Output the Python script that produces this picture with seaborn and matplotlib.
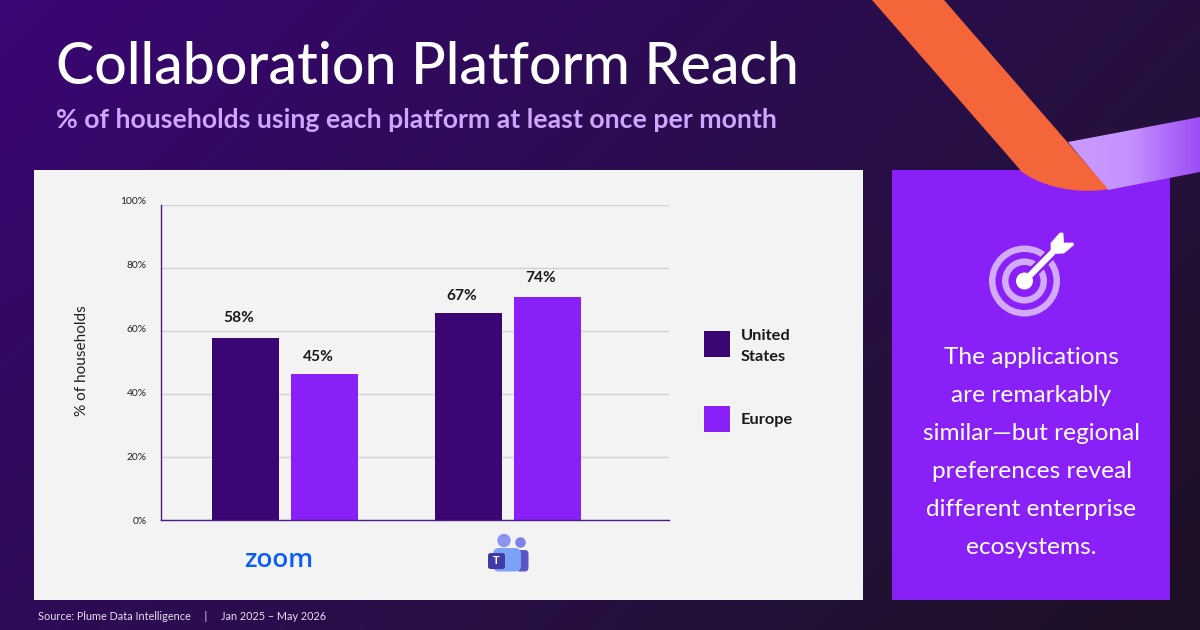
import numpy as np
import pandas as pd
import matplotlib
matplotlib.use("Agg")
import matplotlib.pyplot as plt
import seaborn as sns
from matplotlib.patches import Polygon, Rectangle, Circle, FancyBboxPatch, Wedge, PathPatch
from matplotlib.path import Path
from matplotlib.colors import LinearSegmentedColormap
from matplotlib.transforms import ScaledTranslation

platforms = ["Zoom", "Teams"]
regions = ["United States", "Europe"]
us_heights = [57.8, 65.7]
europe_heights = [46.3, 70.8]
us_labels = ["58%", "67%"]
europe_labels = ["45%", "74%"]
tick_values = [0, 20, 40, 60, 80, 100]
tick_labels = ["0%", "20%", "40%", "60%", "80%", "100%"]

TITLE = "Collaboration Platform Reach"
SUBTITLE = "% of households using each platform at least once per month"
SOURCE = "Source: Plume Data Intelligence     |     Jan 2025 – May 2026"
CALLOUT = ["The applications", "are remarkably", "similar—but regional",
           "preferences reveal", "different enterprise", "ecosystems."]

DARK = "#3A0674"
PURPLE = "#8A20F8"
FONT = "Lato"

sns.set_theme(style="white")
plt.rcParams["font.family"] = [FONT, "DejaVu Sans"]

fig = plt.figure(figsize=(12, 6.3), dpi=100)

# pixel overlay
bg = fig.add_axes([0, 0, 1, 1], zorder=0)
bg.set_xlim(0, 1200)
bg.set_ylim(630, 0)
bg.axis("off")

W, H = 240, 126
yy, xx = np.mgrid[0:1:H*1j, 0:1:W*1j]
t = np.clip((xx * 1200 + yy * 630 * 1.0) / 1830, 0, 1)
cmap = LinearSegmentedColormap.from_list("bg", ["#3A0674", "#2E0B58", "#26103F", "#1E1024"])
bg.imshow(t, cmap=cmap, extent=(0, 1200, 630, 0), aspect="auto", zorder=0, vmin=0, vmax=1)

bg.add_patch(Rectangle((34, 170), 829, 430, fc="#F3F3F3", ec="none", zorder=1))
bg.add_patch(Rectangle((892, 170), 278, 430, fc=PURPLE, ec="none", zorder=1))

# ribbons
rib = Polygon([(1068, 142), (1200, 117), (1200, 172), (1108, 190)], closed=True, fc="none", ec="none", zorder=2)
bg.add_patch(rib)
grad = np.linspace(0, 1, 200).reshape(1, -1)
gc = LinearSegmentedColormap.from_list("rib", ["#CB9CFF", "#C592FD", "#9D4DF5"])
im = bg.imshow(grad, cmap=gc, extent=(1060, 1200, 200, 110), aspect="auto", zorder=2)
im.set_clip_path(rib)
verts = [(872, 0), (944, 0), (1108, 189), (1094, 192), (1054, 194), (1022, 172), (1003, 150), (872, 0)]
codes = [Path.MOVETO, Path.LINETO, Path.LINETO, Path.CURVE4, Path.CURVE4, Path.CURVE4, Path.LINETO, Path.CLOSEPOLY]
bg.add_patch(PathPatch(Path(verts, codes), fc="#F4663A", ec="none", zorder=3))

# target icon
cx, cy = 1024.5, 281
LAV = "#D2ABFC"
for r, w in [(35.5, 6.5), (22.5, 6.5)]:
    bg.add_patch(Wedge((cx, cy), r, 0, 360, width=w, fc=LAV, ec="none", zorder=4))
bg.plot([cx, 1056], [cy, 249], color=PURPLE, lw=8, solid_capstyle="butt", zorder=5)
bg.plot([cx, 1053], [cy, 252], color="white", lw=4.5, solid_capstyle="butt", zorder=6)
bg.add_patch(Circle((cx, cy), 8.5, fc="white", ec="none", zorder=6))
bg.add_patch(Polygon([(1051, 243), (1060, 233), (1063, 233), (1063.5, 243), (1073, 243), (1073.5, 245),
                     (1064, 253), (1054, 253.5), (1051, 250)], closed=True, fc="white", ec="white", lw=0.5, zorder=6))

# titles
bg.text(56, 67, TITLE, color="white", fontsize=41.2, va="center", ha="left", fontweight="medium", zorder=5)
bg.text(56, 120.5, SUBTITLE, color="#CFA6FF", fontsize=19.2, va="center", ha="left", fontweight="bold", zorder=5)
bg.text(38, 617, SOURCE, color="#E6DDF0", fontsize=7.8, va="center", ha="left", zorder=5)

for i, line in enumerate(CALLOUT):
    bg.text(1031.5, 358 + i * 38, line, color="white", fontsize=17.6, ha="center", va="center", zorder=5)

# legend
bg.add_patch(Rectangle((704, 331), 26, 26, fc=DARK, ec="none", zorder=4))
bg.add_patch(Rectangle((704, 406), 26, 26, fc=PURPLE, ec="none", zorder=4))
bg.text(741, 346.5, "United\nStates", color="#1A1A1A", fontsize=11.8, fontweight="bold", va="center", ha="left",
        linespacing=1.55, zorder=5)
bg.text(741, 420, regions[1], color="#1A1A1A", fontsize=11.8, fontweight="bold", va="center", ha="left", zorder=5)

# logos
bg.text(279, 560.5, "zoom", color="#0B5CFF", fontsize=18.8, fontweight="semibold", ha="center", va="center",
        family=["Open Sans", "DejaVu Sans"], zorder=5)
bg.add_patch(Circle((504, 540.5), 6.7, fc="#8E93F0", ec="none", zorder=4))
bg.add_patch(Circle((520.5, 542.5), 5.3, fc="#7F83E8", ec="none", zorder=4))
bg.add_patch(FancyBboxPatch((516, 550), 12.5, 21.5, boxstyle="round,pad=0,rounding_size=4", fc="#5B55C8", ec="none", zorder=4))
bg.add_patch(FancyBboxPatch((493, 548), 28, 23.5, boxstyle="round,pad=0,rounding_size=6", fc="#7DA2F5", ec="none", zorder=5))
bg.add_patch(FancyBboxPatch((488, 553), 17, 16, boxstyle="round,pad=0,rounding_size=2.5", fc="#3F3AA6", ec="none", zorder=6))
bg.text(496.5, 561, "T", color="white", fontsize=8, fontweight="bold", ha="center", va="center", zorder=7)

# chart
left, right, top, bottom = 161.2, 669, 205, 520
ax = fig.add_axes([left / 1200, 1 - bottom / 630, (right - left) / 1200, (bottom - top) / 630], zorder=2)
ax.patch.set_alpha(0)
df = pd.DataFrame({
    "platform": platforms * 2,
    "region": [regions[0]] * 2 + [regions[1]] * 2,
    "value": us_heights + europe_heights,
})
sns.barplot(data=df, x="platform", y="value", hue="region", order=platforms, hue_order=regions,
            palette=[DARK, PURPLE], width=0.709, gap=0.145, dodge=True, legend=False, saturation=1,
            linewidth=0, ax=ax, zorder=3)
ax.set_xlim(-0.556, 1.722)
ax.set_ylim(0, 100)
ax.set_yticks(tick_values, tick_labels)
ax.tick_params(axis="y", length=0, pad=10.5, labelsize=7.4, labelcolor="#222222")
px = 1 / 100
for lab, dy in zip(ax.get_yticklabels(), [0, 1, 1.5, 2, 3, 4]):
    lab.set_transform(lab.get_transform() + ScaledTranslation(0, dy * px, fig.dpi_scale_trans))
ax.set_xticks([])
ax.set_xlabel("")
ax.set_ylabel("")
ax.yaxis.grid(True, color="#D2D2D2", lw=1)
ax.xaxis.grid(False)
ax.set_axisbelow(True)
for s in ["top", "right"]:
    ax.spines[s].set_visible(False)
for s in ["left", "bottom"]:
    ax.spines[s].set_visible(True)
    ax.spines[s].set_color("#4A1A86")
    ax.spines[s].set_linewidth(1)
    ax.spines[s].set_zorder(4)
lift_px = [[13.0, 10.0], [10.5, 12.0]]
for cont, labs, lifts in zip(ax.containers, [us_labels, europe_labels], lift_px):
    for bar, lab, lift in zip(cont, labs, lifts):
        ax.annotate(lab, xy=(bar.get_x() + bar.get_width() / 2, bar.get_height()),
                    xytext=(-4.8, lift * 0.72), textcoords="offset points", ha="center", va="bottom",
                    fontsize=11.2, fontweight="bold", color="#1A1A1A", annotation_clip=False)
fig.text(81.5 / 1200, 1 - 361 / 630, "% of households", rotation=90, ha="center", va="center",
         fontsize=11.1, color="#222222", zorder=5)

fig.savefig("out.png", dpi=100)
